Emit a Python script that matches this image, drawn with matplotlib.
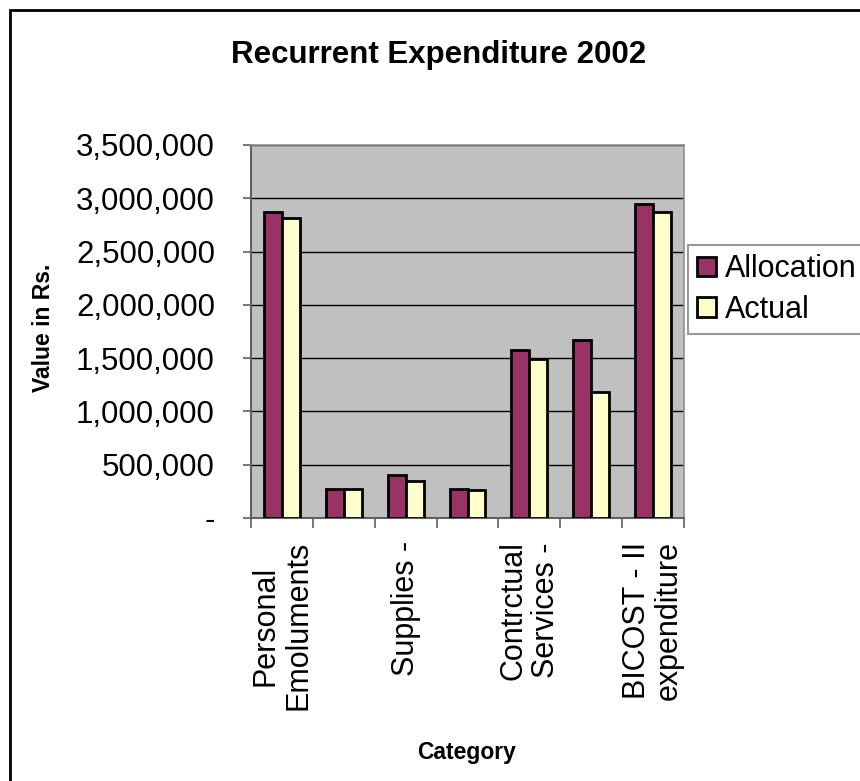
import numpy as np
import matplotlib
matplotlib.use("Agg")
import matplotlib.pyplot as plt
from matplotlib.patches import Rectangle
from matplotlib.ticker import FuncFormatter

plt.rcParams['font.family'] = ['Liberation Sans', 'DejaVu Sans']

# data (Excel only printed every other category label)
categories = ["Personal\nEmoluments", "", "Supplies -", "",
              "Contrctual\nServices -", "", "BICOST - II\nexpenditure"]
allocation = [2872000, 272000, 403000, 272000, 1578000, 1672000, 2950000]
actual = [2816000, 269000, 350000, 262000, 1488000, 1181000, 2869000]
series_names = ["Allocation", "Actual"]
yticks = [0, 500000, 1000000, 1500000, 2000000, 2500000, 3000000, 3500000]

W, H = 860, 781
fig = plt.figure(figsize=(W / 100, H / 100), dpi=100)
ax = fig.add_axes([251 / W, 1 - 518 / H, 433 / W, 373 / H])

x = np.arange(len(categories))
bw = 0.29
ax.bar(x - bw / 2, allocation, bw, color="#993366", edgecolor="black", lw=2,
       label=series_names[0], zorder=3)
ax.bar(x + bw / 2, actual, bw, color="#FFFFCC", edgecolor="black", lw=2,
       label=series_names[1], zorder=3)

ax.set_facecolor("#C0C0C0")
ax.set_xlim(-0.5, len(categories) - 0.5)
ax.set_ylim(0, 3500000)
ax.set_yticks(yticks)
ax.yaxis.set_major_formatter(FuncFormatter(lambda v, p: "-" if v == 0 else f"{int(v):,}"))
ax.yaxis.grid(True, color="black", lw=1)
ax.set_axisbelow(True)

ax.set_xticks(np.arange(len(categories) + 1) - 0.5)
ax.set_xticklabels([])
ax.tick_params(axis="x", length=7, width=1.2, color="#606060")
ax.tick_params(axis="y", length=6, width=1.2, color="#606060", labelsize=22.5, pad=20)

for s in ["top", "right"]:
    ax.spines[s].set_color("#909090")
    ax.spines[s].set_linewidth(1.2)
for s in ["left", "bottom"]:
    ax.spines[s].set_color("#606060")
    ax.spines[s].set_linewidth(1.5)

for i, lab in enumerate(categories):
    if lab:
        ax.text(i, -0.062, lab, transform=ax.get_xaxis_transform(), rotation=90,
                ha="center", va="top", multialignment="center", fontsize=22,
                linespacing=1.1)

fig.text(439 / W, 1 - 55 / H, "Recurrent Expenditure 2002", ha="center", va="center",
         fontsize=22.5, fontweight="bold")
fig.text(44 / W, 1 - 328 / H, "Value in Rs.", ha="center", va="center", rotation=90,
         fontsize=16.5, fontweight="bold")
fig.text(467 / W, 1 - 752 / H, "Category", ha="center", va="center",
         fontsize=16.5, fontweight="bold")

leg = ax.legend(loc="upper left", bbox_to_anchor=(688 / W, 1 - 245 / H),
                bbox_transform=fig.transFigure, fontsize=22, frameon=True,
                fancybox=False, borderpad=0.3, handlelength=0.6, handleheight=0.6,
                handletextpad=0.3, labelspacing=0.35, borderaxespad=0)
leg.get_frame().set_edgecolor("#808080")
leg.get_frame().set_linewidth(1.5)
for h in leg.legend_handles:
    h.set_linewidth(2)

# chart-area border (right and bottom edges fall outside the picture)
fig.add_artist(Rectangle((10 / W, -0.1), 1.2, 1.1 - 10 / H, transform=fig.transFigure,
                         fill=False, ec="black", lw=2))

fig.savefig("out.png", dpi=100)
